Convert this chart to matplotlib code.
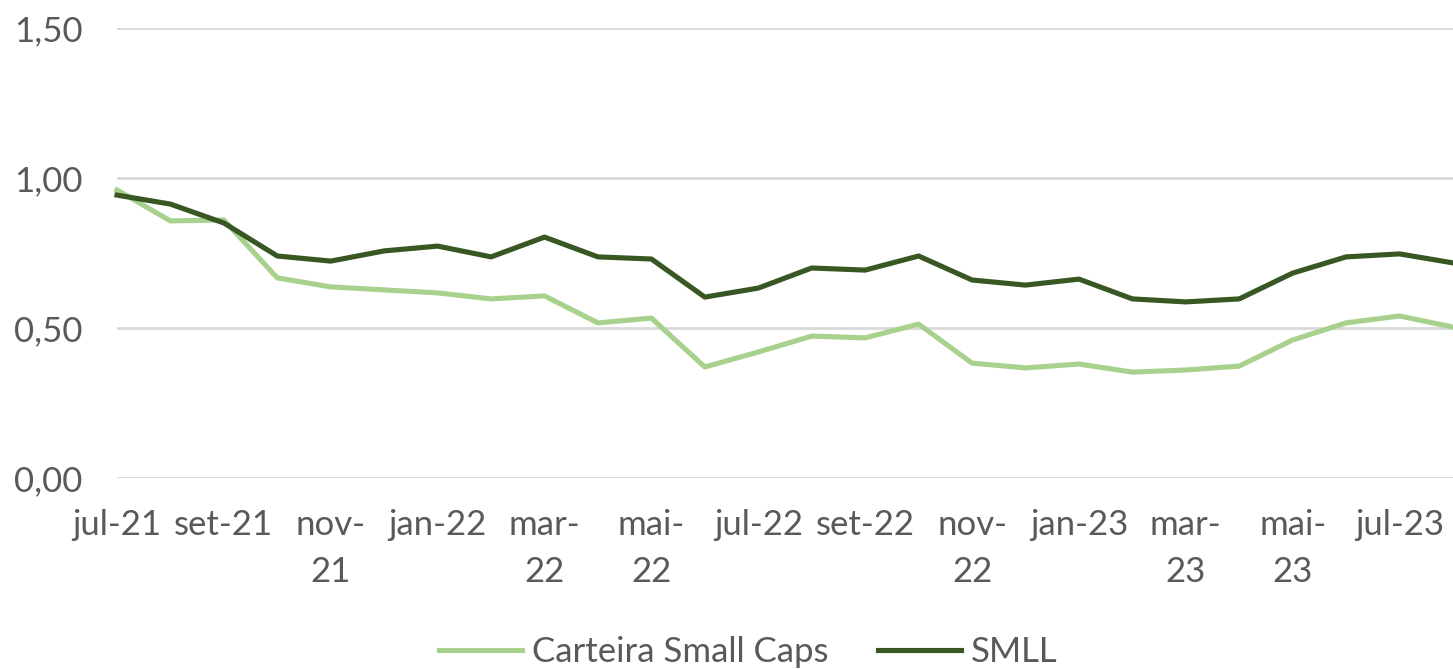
import matplotlib
matplotlib.use("Agg")
import matplotlib.pyplot as plt

months = ["jul-21", "ago-21", "set-21", "out-21", "nov-21", "dez-21", "jan-22", "fev-22",
          "mar-22", "abr-22", "mai-22", "jun-22", "jul-22", "ago-22", "set-22", "out-22",
          "nov-22", "dez-22", "jan-23", "fev-23", "mar-23", "abr-23", "mai-23", "jun-23",
          "jul-23", "ago-23"]
carteira = [0.96, 0.857, 0.86, 0.667, 0.637, 0.627, 0.617, 0.597, 0.607, 0.517, 0.533, 0.37,
            0.42, 0.473, 0.467, 0.513, 0.383, 0.367, 0.38, 0.353, 0.36, 0.373, 0.46, 0.517,
            0.54, 0.503]
smll = [0.943, 0.913, 0.85, 0.74, 0.723, 0.757, 0.773, 0.737, 0.803, 0.737, 0.73, 0.603,
        0.633, 0.70, 0.693, 0.74, 0.66, 0.643, 0.663, 0.597, 0.587, 0.597, 0.683, 0.737,
        0.747, 0.717]
tick_labels = ["jul-21", "set-21", "nov-\n21", "jan-22", "mar-\n22", "mai-\n22", "jul-22",
               "set-22", "nov-\n22", "jan-23", "mar-\n23", "mai-\n23", "jul-23"]
y_ticks = [0.0, 0.5, 1.0, 1.5]
y_labels = ["0,00", "0,50", "1,00", "1,50"]

plt.rcParams['font.family'] = ['Lato', 'DejaVu Sans']
W, H = 1453, 669
fig = plt.figure(figsize=(W / 100, H / 100), dpi=100)
left = 117 / W
bottom = (H - 478) / H
top = (H - 28) / H
ax = fig.add_axes([left, bottom, 1.0 - left, top - bottom])

x = list(range(len(months)))
ax.plot(x, carteira, color="#A9D18E", lw=3.7, label="Carteira Small Caps",
        solid_joinstyle="round", clip_on=False, zorder=3)
ax.plot(x, smll, color="#385723", lw=3.7, label="SMLL",
        solid_joinstyle="round", clip_on=False, zorder=4)

ax.set_xlim(0, len(months) - 1)
ax.set_ylim(0, 1.5)
ax.set_yticks(y_ticks)
ax.set_yticklabels(y_labels)
ax.set_xticks(list(range(0, len(months), 2)))
ax.set_xticklabels(tick_labels, linespacing=1.6)
ax.tick_params(axis="both", length=0, labelsize=25, colors="#595959")
ax.tick_params(axis="x", pad=22)
ax.tick_params(axis="y", pad=25)
for lab in ax.get_yticklabels():
    lab.set_horizontalalignment("right")

ax.grid(axis="y", color="#D9D9D9", lw=2)
ax.set_axisbelow(True)
for s in ax.spines.values():
    s.set_visible(False)

leg = fig.legend(loc="lower center", bbox_to_anchor=(0.515, -0.045), ncol=2, frameon=False,
                 fontsize=25, handlelength=2.4, handletextpad=0.3, columnspacing=1.4)
for t in leg.get_texts():
    t.set_color("#595959")

fig.savefig("out.png", dpi=100)
